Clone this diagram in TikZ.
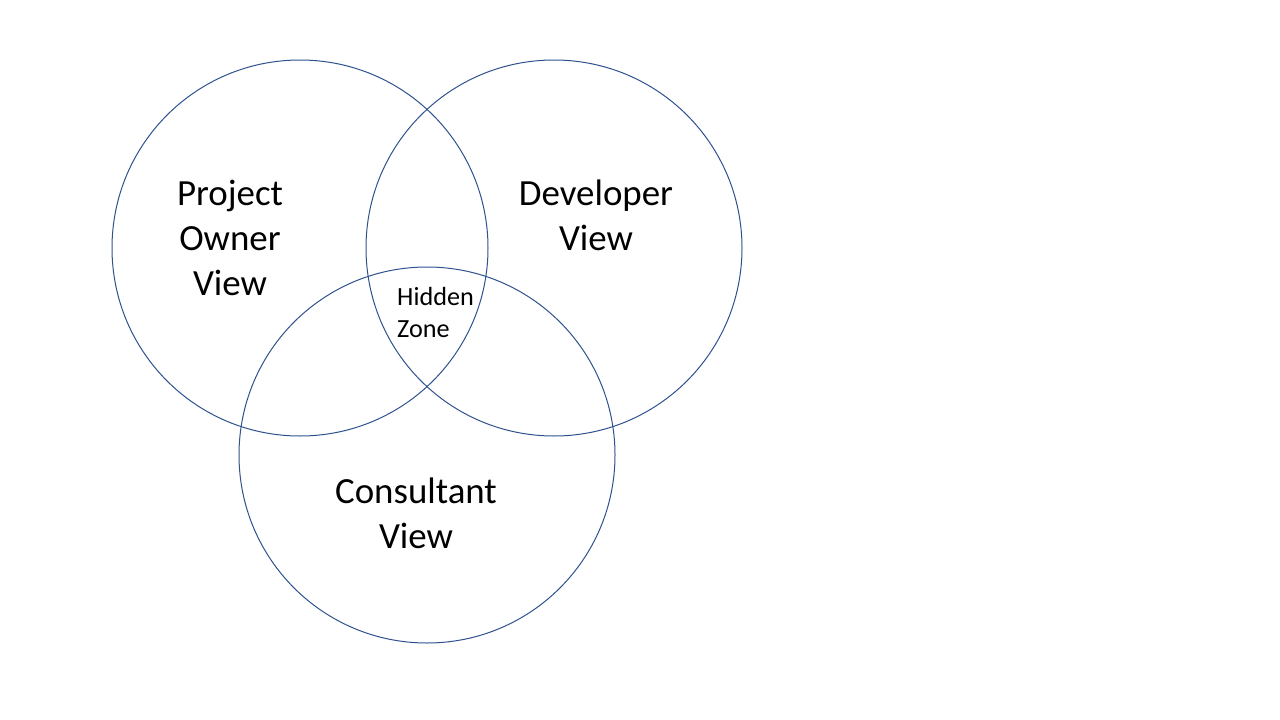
\documentclass[tikz,border=0pt]{standalone}
\usepackage{fontspec}
\setmainfont{Carlito}
\definecolor{ringblue}{HTML}{2F528F}
\begin{document}
\begin{tikzpicture}[x=1pt,y=-1pt,
  ring/.style={draw=ringblue,line width=1pt},
  biglabel/.style={inner sep=0pt,align=center,anchor=base,font=\fontsize{36.9}{45}\selectfont},
  smalllabel/.style={inner sep=0pt,align=left,anchor=base west,font=\fontsize{26.2}{31.5}\selectfont}]
\useasboundingbox[fill=white] (0,0) rectangle (1280,720);
\draw[ring] (300,248) circle[radius=188];
\draw[ring] (554,248) circle[radius=188];
\draw[ring] (427,455) circle[radius=188];
\node[biglabel] (owner) at (230,295) {Project\\Owner\\View};
\node[biglabel] (dev) at (596,250) {Developer\\View};
\node[biglabel] (cons) at (416,548) {Consultant\\View};
\node[smalllabel] (hidden) at (397,337) {Hidden\\Zone};
\end{tikzpicture}
\end{document}
